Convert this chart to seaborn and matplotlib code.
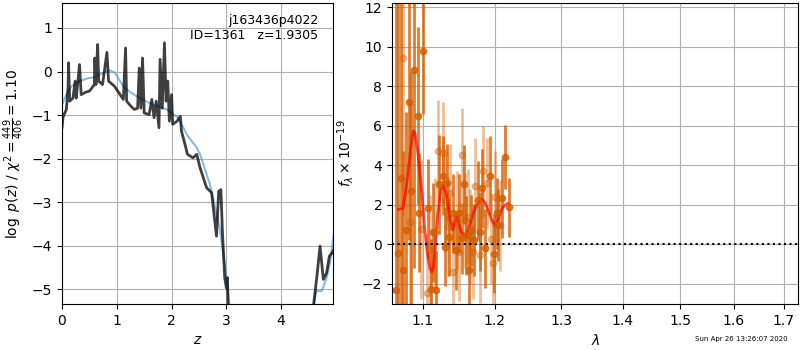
import numpy as np
import pandas as pd
import matplotlib
matplotlib.use('Agg')
import matplotlib.pyplot as plt
import seaborn as sns
from matplotlib.ticker import FixedLocator, FixedFormatter, NullLocator

# ---- left panel: redshift PDF ----
z_fit = [0.0, 0.02, 0.08, 0.11, 0.12, 0.14, 0.20, 0.24, 0.26, 0.32, 0.35, 0.44, 0.50,
         0.59, 0.60, 0.62, 0.65, 0.67, 0.74, 0.82, 0.85, 0.96, 1.06, 1.12, 1.16, 1.18,
         1.26, 1.32, 1.38, 1.41, 1.44, 1.47, 1.50, 1.59, 1.64, 1.68, 1.72, 1.77, 1.79,
         1.83, 1.87, 1.90, 1.93, 1.96, 2.00, 2.02, 2.10, 2.16, 2.18, 2.23, 2.29, 2.39,
         2.46, 2.52, 2.64, 2.73, 2.82, 2.86, 2.90, 2.93, 2.97, 3.00, 3.02, 3.03, 3.10,
         3.5, 4.0, 4.4, 4.55, 4.65, 4.71, 4.77, 4.83, 4.88, 4.92, 4.96]
logp_fit = [-1.29, -1.04, -0.87, -0.37, 0.20, -0.68, -0.61, -0.22, -0.61, 0.16, -0.53,
            -0.47, -0.45, -0.30, 0.31, -0.30, 0.62, -0.22, -0.30, 0.44, -0.22, -0.34,
            -0.53, -0.64, 0.54, -0.68, -0.80, -0.87, -0.84, 0.08, -0.84, 0.31, -0.95,
            -0.99, -0.64, -1.06, -0.68, -1.29, 0.28, -0.84, 0.66, -0.68, -0.22, -1.14,
            -0.53, -1.21, -1.14, -1.03, -1.37, -1.60, -1.90, -1.98, -1.90, -2.21, -2.67,
            -2.78, -3.78, -2.75, -2.71, -3.74, -4.73, -4.97, -4.73, -5.35, -6.5,
            -8.5, -9.0, -7.5, -5.8, -4.73, -4.01, -4.77, -4.62, -4.24, -4.18, -4.10]

z_prior = [0.0, 0.08, 0.17, 0.32, 0.48, 0.57, 0.69, 0.87, 0.96, 1.12, 1.24, 1.42, 1.66,
           1.91, 2.12, 2.28, 2.46, 2.52, 2.70, 2.88, 3.00, 3.06, 3.5, 4.0, 4.4,
           4.59, 4.64, 4.74, 4.83, 4.89, 4.96]
logp_prior = [-0.76, -0.53, -0.34, -0.22, -0.15, -0.14, -0.07, 0.03, -0.02, -0.34, -0.47,
              -0.61, -0.76, -0.87, -1.06, -1.45, -1.75, -1.90, -2.59, -3.60, -4.70,
              -5.40, -8.0, -8.5, -7.0, -5.42, -5.04, -5.04, -4.73, -4.39, -3.74]

# ---- right panel: spectrum ----
wave_a = [1.065, 1.068, 1.072, 1.074, 1.078, 1.082, 1.085, 1.088, 1.0935, 1.0955, 1.1005,
          1.107, 1.1115, 1.114, 1.118, 1.1218, 1.1267, 1.1298, 1.133, 1.1357, 1.141,
          1.1447, 1.149, 1.153, 1.156, 1.159, 1.1625, 1.166, 1.170, 1.176, 1.178,
          1.1817, 1.186, 1.193, 1.199, 1.2035, 1.205, 1.210, 1.214, 1.220]
flux_a = [-2.31, -0.41, 3.34, -1.30, 0.72, 7.22, 2.70, 8.81, 6.48, 1.60, 9.79,
          1.82, -2.25, 0.61, -2.31, 3.05, 3.47, -0.12, 3.09, 0.38, 1.57,
          -0.29, 1.57, 0.30, 3.05, 0.46, -1.30, 0.72, 0.22, 2.24, 0.64,
          2.84, -0.20, 3.47, -0.46, 1.57, 0.98, 2.34, 4.42, 1.87]
err_a = [15, 15, 15, 6, 6, 7, 6, 10, 4.5, 3, 3.2,
         2.5, 2.5, 2.5, 2.0, 2.5, 2.0, 2.0, 2.0, 2.0, 2.0,
         2.0, 2.0, 1.8, 2.0, 2.0, 2.0, 1.8, 1.8, 2.0, 2.0,
         2.0, 2.0, 2.0, 2.0, 1.8, 1.8, 2.0, 1.6, 1.5]

wave_b = [1.074, 1.083, 1.0975, 1.1056, 1.110, 1.116, 1.1203, 1.127, 1.1298, 1.1347,
          1.137, 1.141, 1.146, 1.1485, 1.154, 1.157, 1.1613, 1.165, 1.1687, 1.1715,
          1.178, 1.183, 1.1885, 1.194, 1.197, 1.2004, 1.207]
flux_b = [9.42, 1.14, 0.76, -2.48, -0.29, 0.56, 4.72, 4.61, 2.24, 0.89,
          2.58, -1.39, 1.23, -0.37, 4.51, 1.23, 1.40, 0.38, -0.37, 2.97,
          -0.54, 3.71, 3.09, 0.28, -0.95, 2.41, 0.98]
err_b = [8, 6, 3.5, 3, 2.8, 2.8, 2.6, 2.6, 2.6, 2.5,
         2.5, 2.5, 2.5, 2.5, 2.4, 2.4, 2.4, 2.4, 2.4, 2.4,
         2.4, 2.3, 2.3, 2.3, 2.3, 2.3, 2.3]

wave_model = [1.0685, 1.074, 1.077, 1.080, 1.084, 1.086, 1.088, 1.090, 1.093, 1.096,
              1.099, 1.102, 1.105, 1.108, 1.110, 1.112, 1.114, 1.116, 1.118, 1.120,
              1.1226, 1.1246, 1.1266, 1.129, 1.1325, 1.1365, 1.1405, 1.1432, 1.146,
              1.149, 1.152, 1.1555, 1.159, 1.1625, 1.166, 1.170, 1.174, 1.178,
              1.1817, 1.186, 1.19, 1.195, 1.2004, 1.2055, 1.2105, 1.215, 1.219]
flux_model = [1.77, 1.82, 2.5, 3.4, 4.8, 5.4, 5.75, 5.6, 4.8, 3.7,
              2.58, 1.1, -0.12, -0.9, -1.25, -1.39, -1.2, -0.5, 0.56, 1.5,
              2.3, 2.8, 3.0, 2.85, 2.41, 1.4, 0.72, 1.1, 1.48,
              1.05, 0.64, 0.5, 0.47, 0.8, 1.23, 1.65, 2.0, 2.2,
              2.28, 2.1, 1.74, 1.25, 0.93, 1.35, 1.82, 2.0, 2.08]

lam_ticks = [1.1, 1.2, 1.3, 1.4, 1.5, 1.6, 1.7]

pdf_fit = pd.DataFrame({'z': z_fit, 'logp': logp_fit})
pdf_prior = pd.DataFrame({'z': z_prior, 'logp': logp_prior})
model = pd.DataFrame({'wave': wave_model, 'flux': flux_model})

grism_color = (0.835, 0.369, 0.0)

fig = plt.figure(figsize=(8, 3.5), dpi=100)
ax1 = fig.add_axes([0.0775, 0.131, 0.339, 0.860])
ax2 = fig.add_axes([0.490, 0.131, 0.508, 0.860])

# p(z)
sns.lineplot(data=pdf_prior, x='z', y='logp', ax=ax1, color='#4d94cf', alpha=0.65,
             lw=1.5, sort=False, estimator=None)
sns.lineplot(data=pdf_fit, x='z', y='logp', ax=ax1, color='k', alpha=0.75,
             lw=2, sort=False, estimator=None)
ax1.set_xlim(0, 4.95)
ax1.set_ylim(-5.34, 1.57)
ax1.set_xticks([0, 1, 2, 3, 4])
ax1.set_yticks([-5, -4, -3, -2, -1, 0, 1])
ax1.grid(True)
ax1.set_xlabel('$z$')
ax1.set_ylabel(r'$\log\ p(z)$' + ' / ' + r'$\chi^2=\frac{449}{406}=1.10$')
ax1.text(0.945, 0.965, 'j163436p4022\nID=1361   z=1.9305', transform=ax1.transAxes,
         ha='right', va='top', fontsize=9, linespacing=1.2)

# spectrum
ax2.errorbar(wave_b, flux_b, err_b, color=grism_color, alpha=0.4, marker='.',
             ms=9, ls='none', elinewidth=2)
ax2.errorbar(wave_a, flux_a, err_a, color=grism_color, alpha=0.8, marker='.',
             ms=9, ls='none', elinewidth=2)
sns.lineplot(data=model, x='wave', y='flux', ax=ax2, color='r', alpha=0.7, lw=2,
             sort=False, estimator=None)
ax2.axhline(0, color='k', ls=':', lw=1.5)
ax2.set_xscale('log')
ax2.set_xlim(1.06, 1.73)
ax2.set_ylim(-3.02, 12.2)
ax2.xaxis.set_major_locator(FixedLocator(lam_ticks))
ax2.xaxis.set_major_formatter(FixedFormatter([f'{t:.1f}' for t in lam_ticks]))
ax2.xaxis.set_minor_locator(NullLocator())
ax2.set_yticks([-2, 0, 2, 4, 6, 8, 10, 12])
ax2.grid(True)
ax2.set_xlabel(r'$\lambda$')
ax2.set_ylabel(r'$f_\lambda\times10^{-19}$')

fig.text(0.985, 0.022, 'Sun Apr 26 13:26:07 2020', ha='right', va='bottom', fontsize=5)

fig.savefig('out.png', dpi=100)
